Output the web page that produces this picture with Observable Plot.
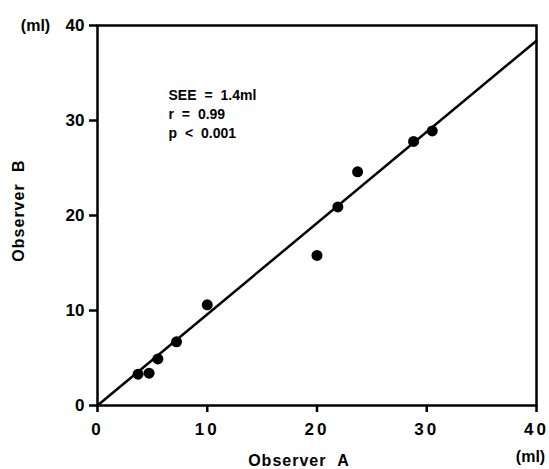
<!DOCTYPE html>
<html><head><meta charset="utf-8">
<script src="https://cdn.jsdelivr.net/npm/d3@7"></script>
<script src="https://cdn.jsdelivr.net/npm/@observablehq/plot@0.6"></script>
<style>body{margin:0;background:#fff}</style>
</head><body><div id="chart"></div>
<script>
const observerA = [3.7, 4.7, 5.5, 7.2, 10.0, 20.0, 21.9, 23.7, 28.8, 30.5];
const observerB = [3.3, 3.4, 4.9, 6.7, 10.6, 15.8, 20.9, 24.6, 27.8, 28.9];
const fitX = [0, 40];
const fitY = [0, 38.4];
const tickValues = [0, 10, 20, 30, 40];
const statLines = ["SEE = 1.4ml", "r = 0.99", "p < 0.001"];
const xLabel = "Observer A";
const yLabel = "Observer B";
const unitLabel = "(ml)";

const points = observerA.map((a, i) => ({a, b: observerB[i]}));
const fit = fitX.map((x, i) => ({x, y: fitY[i]}));
const font = "Liberation Sans, Arial, Helvetica, sans-serif";

const chart = Plot.plot({
  width: 549,
  height: 469,
  marginLeft: 97,
  marginRight: 13,
  marginTop: 25,
  marginBottom: 64,
  style: {fontFamily: font, fontWeight: "bold", background: "#fff", color: "#000"},
  x: {domain: [0, 40]},
  y: {domain: [0, 40]},
  marks: [
    Plot.frame({stroke: "#000", strokeWidth: 2.5}),
    Plot.axisY({ticks: tickValues, tickSize: 8, tickPadding: 5, fontSize: 17, fontWeight: "bold", stroke: "#000", strokeWidth: 2.5, label: null}),
    Plot.axisX({ticks: tickValues, tickSize: 7, tickPadding: 10, fontSize: 17, fontWeight: "bold", stroke: "#000", strokeWidth: 2.5, label: null}),
    Plot.line(fit, {x: "x", y: "y", stroke: "#000", strokeWidth: 2.5}),
    Plot.dot(points, {x: "a", y: "b", r: 5.5, fill: "#000", stroke: "none"}),
    Plot.text([statLines.join("\n")], {frameAnchor: "top-left", dx: 71, dy: 61, lineAnchor: "top", textAnchor: "start", lineHeight: 1.36, fontSize: 14, fontWeight: "bold", ariaDescription: "stats"}),
    Plot.text([xLabel], {frameAnchor: "bottom", dx: -18, dy: 55, lineAnchor: "middle", textAnchor: "middle", fontSize: 16, fontWeight: "bold", ariaDescription: "axislabel"}),
    Plot.text([yLabel], {frameAnchor: "left", dx: -79, dy: -5, rotate: -90, lineAnchor: "middle", textAnchor: "middle", fontSize: 16, fontWeight: "bold", ariaDescription: "axislabel"}),
    Plot.text([unitLabel], {frameAnchor: "top-left", dx: -62, dy: 0, lineAnchor: "middle", textAnchor: "middle", fontSize: 16, fontWeight: "bold"}),
    Plot.text([unitLabel], {frameAnchor: "bottom-right", dx: -6, dy: 51, lineAnchor: "middle", textAnchor: "middle", fontSize: 16, fontWeight: "bold"})
  ]
});
document.getElementById("chart").appendChild(chart);
const svg = d3.select(chart);
svg.selectAll('g[aria-label="x-axis tick label"] text').attr("letter-spacing", "3px");
svg.selectAll('g[aria-description="stats"]').attr("word-spacing", "4px");
svg.selectAll('g[aria-description="axislabel"]').attr("letter-spacing", "1px").attr("word-spacing", "6px");
</script>
</body></html>
